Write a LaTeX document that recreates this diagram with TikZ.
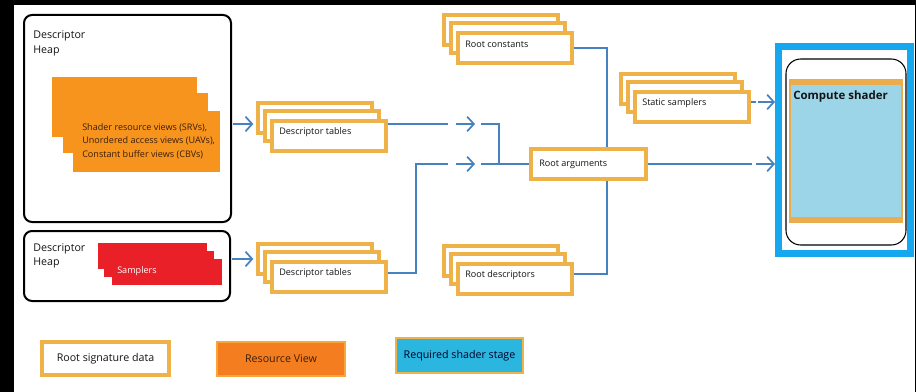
\documentclass[tikz,border=0pt]{standalone}
\usepackage{fontspec}
\setmainfont{Open Sans}
\usetikzlibrary{fit,arrows.meta,calc}

\definecolor{rsgold}{RGB}{239,178,72}
\definecolor{wireblue}{RGB}{70,130,192}
\definecolor{resorange}{RGB}{246,148,30}
\definecolor{legorange}{RGB}{244,125,32}
\definecolor{legorangeedge}{RGB}{247,165,60}
\definecolor{sampred}{RGB}{234,32,40}
\definecolor{stagecyan}{RGB}{22,168,238}
\definecolor{shaderblue}{RGB}{157,213,232}
\definecolor{shaderband}{RGB}{234,172,76}
\definecolor{legcyan}{RGB}{43,182,224}
\definecolor{textdark}{RGB}{20,20,20}
\definecolor{textbrown}{RGB}{60,30,10}

% a stack of three root-signature cards: name, x, y of the front card, caption
\newcommand\rsstack[4]{%
  \node[rsbox, fit={(#2-14,#3-18) (#2+100,#3+12)}] (#1-a) {};
  \node[rsbox, fit={(#2-7,#3-10) (#2+107,#3+20)}] (#1-b) {};
  \node[rsbox, fit={(#2,#3) (#2+114,#3+30)}] (#1) {};
  \node[lbl, anchor=west] (#1-t) at (#2+7,#3+11) {#4};
}

\begin{document}
\begin{tikzpicture}[x=0.75pt,y=-0.75pt,
  rsbox/.style={draw=rsgold, line width=2.6pt, fill=white, inner sep=0pt},
  heapbox/.style={draw=black, line width=1.5pt, rounded corners=6pt, fill=white, inner sep=0pt},
  resfill/.style={fill=resorange, inner sep=0pt},
  redfill/.style={fill=sampred, inner sep=0pt},
  lbl/.style={font=\fontsize{6.8}{8}\selectfont, text=textdark, inner sep=0pt},
  heaplbl/.style={font=\fontsize{8}{11.25}\selectfont, text=textdark, inner sep=0pt, align=left},
  leglbl/.style={font=\fontsize{8}{9.6}\selectfont, text=textdark},
  wire/.style={draw=wireblue, line width=1.3pt},
  arr/.style={-{Straight Barb[length=5pt,width=11pt]}}
]
% canvas and dark frame strips
\useasboundingbox (0,0) rectangle (916,392);
\fill[white] (0,0) rectangle (916,392);
\fill[black] (0,0) rectangle (14,392);
\fill[black] (0,0) rectangle (916,5);
\fill[black] (915,0) rectangle (916,392);

% level coordinates for the connectors
\coordinate (yT) at (0,124);
\coordinate (yM) at (0,164);
\coordinate (yB) at (0,273);
\coordinate (yH) at (0,259);

% descriptor heap with resource views
\node[heapbox, fit={(24,15) (231,222)}] (heapA) {};
\node[heaplbl, anchor=west] (heapA-t) at (33,43.5) {Descriptor\\Heap};
\node[resfill, fit={(52,77) (197,137)}] (srv-a) {};
\node[resfill, fit={(63,93) (208,153)}] (srv-b) {};
\node[resfill, fit={(73,111) (220,172)}] (srv) {};
\node[anchor=west, align=left, inner sep=0pt, text=textbrown,
      font=\fontsize{6.8}{10.1}\selectfont] (srv-t) at (82,141)
  {Shader resource views (SRVs),\\Unordered access views (UAVs),\\Constant buffer views (CBVs)};

% descriptor heap with samplers
\node[heapbox, fit={(24,231) (230,301)}] (heapB) {};
\node[heaplbl, anchor=west, font=\fontsize{8}{10.5}\selectfont] (heapB-t) at (33,256) {Descriptor\\Heap};
\node[redfill, fit={(98,243) (207,269)}] (smp-a) {};
\node[redfill, fit={(104,251) (214,277)}] (smp-b) {};
\node[redfill, fit={(112,259) (222,285)}] (smp) {};
\node[lbl, anchor=west, text=white] (smp-t) at (117,271) {Samplers};

% root signature cards
\rsstack{dtA}{272}{121}{Descriptor tables}
\rsstack{dtB}{272}{262}{Descriptor tables}
\rsstack{rc}{458}{33}{Root constants}
\rsstack{rd}{458}{264}{Root descriptors}
\rsstack{ss}{635}{92}{Static samplers}

% heaps feed the descriptor tables
\draw[wire,arr] ([xshift=1pt]heapA.east |- yT) -- ++(20,0);
\draw[wire,arr] ([xshift=1pt]heapB.east |- yH) -- ++(21,0);

% root constants and root descriptors join the trunk
\draw[wire] (rc.east) -- ++(33,0) |- ([yshift=3.75pt]rd.east);

% root arguments
\node[rsbox, fit={(531,149) (646,179)}] (ra) {};
\node[lbl, anchor=west] (ra-t) at (539,164) {Root arguments};

% descriptor tables into root arguments
\coordinate (gT1) at (448,124);
\coordinate (gT2) at (456,124);
\coordinate (gT3) at (475,124);
\coordinate (gT4) at (481,124);
\coordinate (gM1) at (448,164);
\coordinate (gM2) at (456,164);
\coordinate (gM3) at (475,164);
\coordinate (gM4) at (481,164);
\draw[wire] (dtA.east |- yT) -- (gT1);
\draw[wire,arr] (gT2) -- (gT3);
\draw[wire] (gT4) -- ++(18,0) |- (ra.west);
\draw[wire] (dtB.east |- yB) -- ++(28,0) |- (gM1);
\draw[wire,arr] (gM2) -- (gM3);
\draw[wire] (gM4) -- (ra.west);

% compute shader stage
\node[draw=stagecyan, line width=5.25pt, fill=white, inner sep=0pt,
      fit={(778.5,46.5) (910.5,253.5)}] (cs) {};
\node[draw=black, line width=0.8pt, rounded corners=11pt, inner sep=0pt,
      fit={(786,59) (906,245)}] (cs-frame) {};
\node[fill=shaderband, inner sep=0pt, fit={(789,79) (903,223)}] (cs-band) {};
\node[fill=shaderblue, inner sep=0pt, fit={(791,85) (901,217)}] (cs-body) {};
\node[anchor=west, inner sep=0pt, text=textdark, font=\fontsize{8.6}{11}\selectfont\bfseries]
  (cs-t) at (793,97) {Compute shader};

% root arguments and static samplers into the shader stage
\coordinate (gR1) at (752,164);
\coordinate (gR2) at (756,164);
\coordinate (gS1) at (756,102);
\coordinate (gS2) at (758,102);
\draw[wire] (ra.east) -- (gR1);
\draw[wire,arr] (gR2) -- (cs.west |- gR2);
\draw[wire] ([yshift=3.75pt]ss.east) -- (gS1);
\draw[wire,arr] (gS2) -- (cs.west |- gS2);

% legend
\node[rsbox, fit={(42,342) (169,375)}] (lg-rs) {};
\node[leglbl, inner sep=0pt] (lg-rs-t) at (lg-rs.center) {Root signature data};
\node[fill=legorange, draw=legorangeedge, line width=1.5pt, inner sep=0pt,
      fit={(217,342) (345,376)}] (lg-rv) {};
\node[leglbl, inner sep=0pt, text=textbrown] (lg-rv-t) at (lg-rv.center) {Resource View};
\node[fill=legcyan, draw=rsgold, line width=2.2pt, inner sep=0pt,
      fit={(396,338) (523,373)}] (lg-ss) {};
\node[leglbl, inner sep=0pt, text=black!85!blue] (lg-ss-t) at (lg-ss.center) {Required shader stage};
\end{tikzpicture}
\end{document}
